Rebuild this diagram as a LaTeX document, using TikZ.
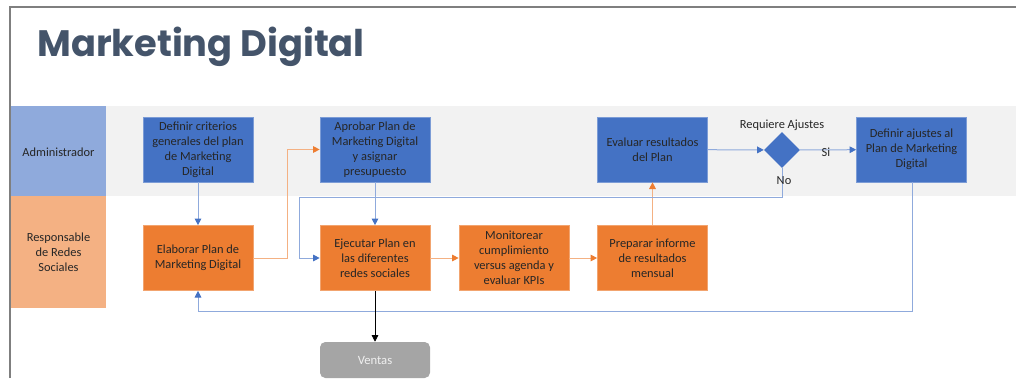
\documentclass[tikz,border=0pt]{standalone}
\usepackage{fontspec}
\setmainfont{Carlito}
\newfontfamily\titlefont{Poppins}
\usetikzlibrary{arrows.meta,shapes.geometric}
\definecolor{lanegray}{HTML}{F2F2F2}
\definecolor{laneblue}{HTML}{8FAADC}
\definecolor{laneorange}{HTML}{F4B183}
\definecolor{boxblue}{HTML}{4472C4}
\definecolor{boxorange}{HTML}{ED7D31}
\definecolor{boxgray}{HTML}{A5A5A5}
\definecolor{txt}{HTML}{262626}
\definecolor{titlecol}{HTML}{44546A}
\definecolor{lineblue}{HTML}{8FAADC}
\definecolor{lineorange}{HTML}{F4B183}
\definecolor{framegray}{HTML}{7F7F7F}
\tikzset{
  proc/.style={rectangle, minimum width=82.5pt, minimum height=48.75pt, inner sep=1pt,
    align=center, font=\fontsize{9.3}{11.25}\selectfont, text=txt},
  bluebox/.style={proc, fill=boxblue, draw=boxblue!70!white, line width=0.5pt},
  orangebox/.style={proc, fill=boxorange, draw=boxorange!70!white, line width=0.5pt},
  lanelabel/.style={align=center, font=\fontsize{9.3}{11.25}\selectfont, text=txt},
  bconn/.style={draw=lineblue, line width=0.75pt, -{Triangle[length=5pt,width=5pt,color=boxblue]}},
  oconn/.style={draw=lineorange, line width=0.75pt, -{Triangle[length=5pt,width=5pt,color=boxorange]}},
  kconn/.style={draw=black, line width=0.6pt, -{Triangle[length=5pt,width=5pt]}},
  smalltxt/.style={font=\fontsize{9.3}{11.25}\selectfont, text=txt},
}
\begin{document}
\begin{tikzpicture}[x=0.75pt,y=-0.75pt]
\useasboundingbox (0,0) rectangle (1016,378);
% lanes
\fill[lanegray] (106,106) rectangle (1016,196);
\fill[laneblue] (11,106) rectangle (106,196);
\fill[laneorange] (11,196) rectangle (106,308);
\node[lanelabel] (l1) at (58.5,152) {Administrador};
\node[lanelabel] (l2) at (58.5,252) {Responsable\\de Redes\\Sociales};
% frame
\draw[framegray, line width=1.5pt] (10,378) -- (10,7) -- (1016,7);
% title
\node[anchor=base west, inner sep=0pt, font=\titlefont\fontsize{27.6}{33}\selectfont\bfseries, text=titlecol] (title) at (37,57) {Marketing Digital};
% nodes
\node[bluebox] (crit) at (198,149.5) {Definir criterios\\generales del plan\\de Marketing\\Digital};
\node[orangebox] (elab) at (198,258) {Elaborar Plan de\\Marketing Digital};
\node[bluebox] (apro) at (375,149.5) {Aprobar Plan de\\Marketing Digital\\y asignar\\presupuesto};
\node[orangebox] (ejec) at (375,258) {Ejecutar Plan en\\las diferentes\\redes sociales};
\node[orangebox] (moni) at (514,258) {Monitorear\\cumplimiento\\versus agenda y\\evaluar KPIs};
\node[orangebox] (prep) at (652.5,258) {Preparar informe\\de resultados\\mensual};
\node[bluebox] (eval) at (652.5,149.5) {Evaluar resultados\\del Plan};
\node[diamond, fill=boxblue, minimum width=27pt, minimum height=27pt, inner sep=0pt] (dec) at (782,150) {};
\node[smalltxt] (req) at (782,125) {Requiere Ajustes};
\node[bluebox] (ajus) at (911.5,149.5) {Definir ajustes al\\Plan de Marketing\\Digital};
\node[rectangle, rounded corners=4pt, fill=boxgray, minimum width=82.5pt, minimum height=27pt, font=\fontsize{9.5}{11.25}\selectfont, text=white!88!gray] (vent) at (375,360) {Ventas};
\coordinate (noA) at (782,197);
\coordinate (noB) at (299,197);
\coordinate (fbA) at (912,311);
\coordinate (fbB) at (198,311);
% connectors
\draw[bconn] (crit) -- (elab);
\draw[oconn] (elab.east) -- (287,258) |- (apro.west);
\draw[bconn] (apro) -- (ejec);
\draw[oconn] (ejec) -- (moni);
\draw[oconn] (moni) -- (prep);
\draw[oconn] (prep) -- (eval);
\draw[bconn] (eval) -- (dec);
\draw[bconn] (dec) -- node[smalltxt, pos=0.46, yshift=-1.5pt] {Si} (ajus);
\draw[bconn] (dec.south) -- (noA) -- (noB) |- (ejec.west);
\node[smalltxt] (nolab) at (784,181) {No};
\draw[bconn] (ajus.south -| fbA) -- (fbA) -- (fbB) -- (elab.south);
\draw[kconn] (ejec) -- (vent);
\end{tikzpicture}
\end{document}
